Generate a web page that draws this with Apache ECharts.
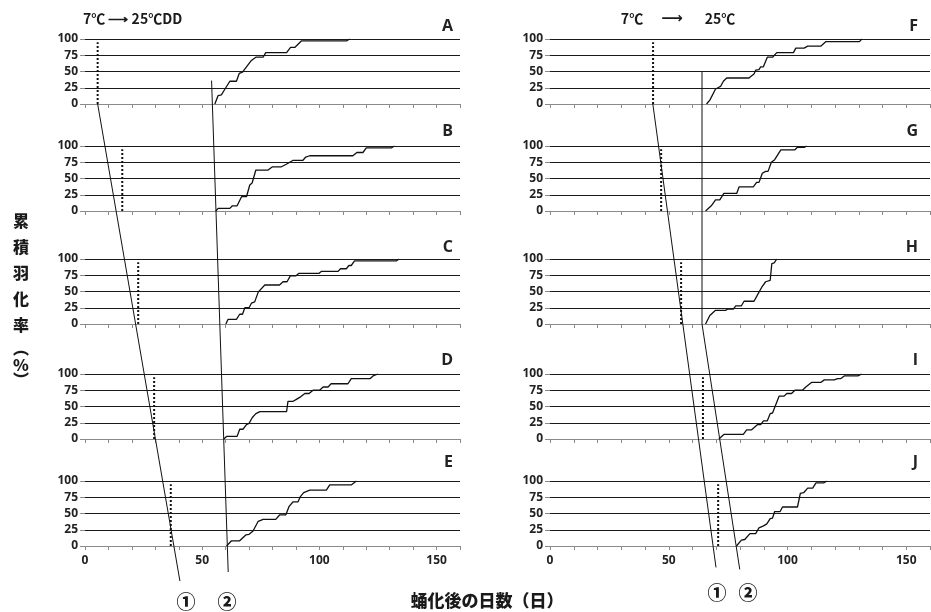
<!DOCTYPE html>
<html>
<head>
<meta charset="utf-8">
<script src="https://cdn.jsdelivr.net/npm/echarts@6/dist/echarts.min.js"></script>
<style>
  html, body { margin: 0; padding: 0; background: #fff; }
  #chart { width: 931px; height: 612px; }
</style>
</head>
<body>
<div id="chart"></div>
<script>
  // panel letters, left column A-E, right column F-J
  const panelLetters = ['A', 'B', 'C', 'D', 'E', 'F', 'G', 'H', 'I', 'J']
  // day of transfer 7C -> 25C (dotted lines)
  const transferDays = [5.4, 15.9, 22.7, 29.5, 36.6, 43.4, 46.8, 55.2, 64.4, 70.8]
  const transferTop = 95
  const xLabelDays = [0, 50, 100, 150]

  // cumulative emergence [day, %]
  const curveA = [[55.4, 0], [56.8, 13], [58.2, 14], [59.2, 20], [60, 20], [61.8, 35], [64.6, 35], [65.8, 47], [67.2, 49], [68.9, 57], [71, 67], [72.9, 72], [76, 72], [77.1, 79], [86, 79], [87.7, 87], [89.5, 87], [92.3, 97], [111.5, 97], [113, 100]]
  const curveB = [[55.8, 0], [56.8, 4], [61.8, 4], [62.9, 8], [64.9, 8], [66.8, 22], [68.9, 22], [70.3, 40], [71.3, 43], [72.9, 63], [78.1, 63], [80, 68], [83.8, 68], [85.9, 72], [88.8, 78], [93, 78], [94.2, 83], [95.9, 85], [114.3, 85], [116, 90], [118.6, 90], [120, 97], [130.7, 97], [132, 100]]
  const curveC = [[60.1, 0], [61, 7], [64.6, 7], [66, 15], [67.2, 15], [68.2, 25], [70, 25], [71, 32], [72.4, 34], [73.9, 49], [76.7, 60], [83, 60], [84.5, 65], [86.2, 65], [87.6, 74], [89.9, 74], [91.3, 78], [99.9, 78], [100.9, 81], [108, 81], [109, 85], [111.5, 85], [112.6, 90], [113.6, 90], [115, 97], [132.8, 97], [134, 100]]
  const curveD = [[59.2, 0], [60.4, 4], [64.9, 4], [66, 15], [67.4, 15], [68.9, 22], [70, 24], [71.4, 33], [72.9, 39], [74.6, 42], [86, 42], [86.6, 58], [88.8, 58], [90.2, 61], [91.6, 64], [93.8, 70], [95.6, 70], [97.3, 75], [100.1, 75], [101.6, 80], [103.7, 80], [105, 85], [112.2, 85], [113.6, 93], [121.7, 93], [122.9, 97], [125, 100]]
  const curveE = [[60.4, 0], [62.5, 8], [66, 8], [68.6, 17], [70, 18], [71.7, 23], [73.9, 38], [76, 41], [81.4, 41], [83.1, 48], [85.7, 48], [87.1, 61], [88.8, 68], [90.9, 68], [91.9, 76], [93.3, 82], [95.9, 86], [103, 86], [104.4, 94], [113.6, 94], [115.8, 100]]
  const curveF = [[65.9, 0], [67.3, 6], [68, 6], [69.7, 23], [70.7, 25], [71.8, 27], [73, 35], [74.4, 40], [83.8, 40], [84.8, 43], [85.9, 46], [86.6, 52], [88, 53], [88.7, 57], [89.8, 57], [91.5, 72], [93.7, 72], [95.5, 79], [102.5, 79], [103.5, 86], [107, 86], [108.5, 89], [114, 89], [116.2, 96], [130.3, 96], [131.3, 100]]
  const curveG = [[65.5, 0], [67.9, 8], [69.7, 17], [71.5, 17], [73.2, 27], [78.6, 27], [79.6, 37], [85.6, 37], [87, 44], [88, 44], [89.4, 58], [90.8, 61], [91.8, 61], [93.2, 75], [94.6, 79], [97.2, 94], [103, 94], [104.2, 98], [107, 98], [108.2, 100]]
  const curveH = [[65.5, 0], [67.3, 13], [69.7, 21], [73.9, 21], [74.9, 23], [77.2, 23], [78.2, 28], [80.6, 28], [81.7, 35], [85.9, 35], [88, 49], [89.4, 58], [90.8, 65], [92.7, 67], [93.4, 93], [94.4, 94], [95.5, 100]]
  const curveI = [[71.1, 0], [73.2, 7], [81.4, 7], [82.8, 14], [84.8, 14], [87.3, 22], [88.7, 22], [89.9, 28], [91.5, 28], [92.7, 39], [93.7, 40], [96.5, 66], [98.6, 66], [99.7, 70], [101.7, 70], [103.1, 75], [106.3, 75], [107.7, 80], [110.1, 87], [114, 87], [115.5, 91], [119.7, 91], [121.1, 93], [122.5, 93], [123.9, 97], [129.6, 97], [131.3, 100]]
  const curveJ = [[78.5, 0], [80.6, 9], [82, 10], [84.2, 19], [86.6, 19], [88, 28], [89.9, 31], [91.3, 34], [92.7, 42], [93.7, 43], [94.6, 53], [96.9, 53], [97.9, 60], [104.2, 60], [105.4, 81], [106.8, 82], [108.5, 89], [110.6, 89], [112, 97], [115.2, 97], [116.6, 100]]
  const curves = [curveA, curveB, curveC, curveD, curveE, curveF, curveG, curveH, curveI, curveJ]

  // guide lines: [panel, day, %] points, may run below a panel's axis
  const guideLines = [
    [[0, 5.4, 0], [4, 40.5, -54]],
    [[0, 54, 36], [4, 61.1, -40]],
    [[5, 43.3, 0], [9, 69.9, -33]],
    [[5, 64, 50], [7, 64, 0], [9, 79.9, -36]]
  ]

  const rowTops = [39, 146, 259, 374, 481]
  const letterTops = [18, 123, 239, 352, 454]
  const numFont = '"Open Sans", "DejaVu Sans", sans-serif'
  const jpFont = '"Noto Sans CJK JP", "Noto Sans", sans-serif'

  const chart = echarts.init(document.getElementById('chart'))

  const grid = [], xAxis = [], yAxis = [], series = [], title = []
  panelLetters.forEach((letter, i) => {
    const col = i < 5 ? 0 : 1
    const row = i % 5
    grid.push({
      left: col ? 550 : 85,
      width: col ? 380 : 375,
      top: rowTops[row],
      height: 65,
      containLabel: false,
      outerBoundsMode: 'none'
    })
    xAxis.push({
      type: 'value',
      gridIndex: i,
      min: 0,
      max: 160,
      interval: 10,
      axisLine: { show: true, onZero: false, lineStyle: { color: '#8a8a8a', width: 1 } },
      axisTick: { show: true, length: 4, lineStyle: { color: '#8a8a8a' } },
      axisLabel: {
        show: row === 4,
        margin: 9,
        color: '#222',
        fontSize: 12,
        fontWeight: 'bold',
        fontFamily: numFont,
        formatter: v => xLabelDays.includes(v) ? String(v) : ''
      },
      splitLine: { show: false }
    })
    yAxis.push({
      type: 'value',
      gridIndex: i,
      min: 0,
      max: 100,
      interval: 25,
      axisLine: { show: false },
      axisTick: { show: true, length: 5, lineStyle: { color: '#8a8a8a' } },
      axisLabel: {
        margin: 7,
        color: '#222',
        fontSize: 12,
        fontWeight: 'bold',
        fontFamily: numFont
      },
      splitLine: { show: true, showMinLine: false, lineStyle: { color: '#1a1a1a', width: 1 } }
    })
    series.push({
      type: 'line',
      xAxisIndex: i,
      yAxisIndex: i,
      data: curves[i],
      symbol: 'none',
      silent: true,
      lineStyle: { color: '#111', width: 1.3 }
    })
    series.push({
      type: 'line',
      xAxisIndex: i,
      yAxisIndex: i,
      data: [[transferDays[i], 0], [transferDays[i], transferTop]],
      symbol: 'none',
      silent: true,
      lineStyle: { color: '#111', width: 2, type: [2, 2] }
    })
    title.push({
      text: letter,
      right: col ? 13 : 478,
      top: letterTops[row],
      padding: 0,
      textStyle: { fontSize: 16, fontWeight: 'bold', color: '#222', fontFamily: numFont }
    })
  })

  chart.setOption({
    animation: false,
    backgroundColor: '#fff',
    title,
    grid,
    xAxis,
    yAxis,
    series
  })

  // layout texts
  const graphic = []
  const addText = (text, x, y, size, font, align, weight) => {
    graphic.push({
      type: 'text',
      x, y,
      silent: true,
      style: {
        text,
        fill: '#1a1a1a',
        font: (weight || 'bold') + ' ' + size + 'px ' + font,
        textAlign: align || 'center',
        textVerticalAlign: 'middle'
      }
    })
  }
  addText('7℃ ⟶ 25℃DD', 83, 19, 14, jpFont, 'left')
  addText('7℃', 632, 19, 14, jpFont)
  addText('⟶', 672, 19, 15, '"DejaVu Sans", sans-serif')
  addText('25℃', 720, 19, 14, jpFont)
  const yTitleChars = ['累', '積', '羽', '化', '率', '︵', '%', '︶']
  const yTitleRows = [221, 247, 273, 299, 325, 348, 365, 380]
  yTitleChars.forEach((c, k) => addText(c, 21, yTitleRows[k], 16, jpFont, 'center', 900))
  addText('蛹化後の日数（日）', 487, 601, 17, jpFont, 'center', 900)
  addText('①', 186, 602, 19, jpFont, 'center', 900)
  addText('②', 227, 602, 19, jpFont, 'center', 900)
  addText('①', 717, 593, 19, jpFont, 'center', 900)
  addText('②', 748, 593, 19, jpFont, 'center', 900)

  guideLines.forEach(pts => {
    const px = pts.map(p => chart.convertToPixel({ gridIndex: p[0] }, [p[1], p[2]]))
    graphic.push({
      type: 'polyline',
      silent: true,
      z: 100,
      shape: { points: px },
      style: { stroke: '#111', lineWidth: 1, fill: null }
    })
  })

  chart.setOption({ graphic })
</script>
</body>
</html>
